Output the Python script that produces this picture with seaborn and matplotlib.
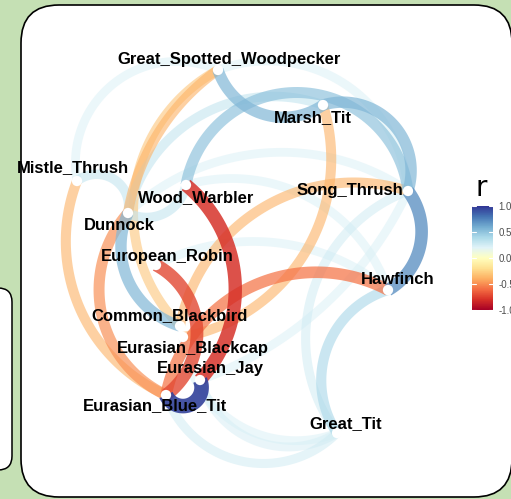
import numpy as np
import pandas as pd
import matplotlib
matplotlib.use("Agg")
import matplotlib.pyplot as plt
import seaborn as sns
from matplotlib.patches import FancyBboxPatch
from matplotlib.cm import ScalarMappable
from matplotlib.colors import Normalize

# node layout
species = ["Great_Spotted_Woodpecker", "Marsh_Tit", "Mistle_Thrush", "Wood_Warbler",
           "Song_Thrush", "Dunnock", "European_Robin", "Hawfinch", "Common_Blackbird",
           "Eurasian_Blackcap", "Eurasian_Jay", "Eurasian_Blue_Tit", "Great_Tit"]
node_x = [218, 323, 77, 186, 408, 128, 156, 388, 180, 183, 200, 166, 337]
node_y = [70, 105, 181, 185, 191, 213, 265, 290, 326, 337, 380, 395, 433]

# correlation edges
edge_from = ["Great_Spotted_Woodpecker", "Marsh_Tit", "Wood_Warbler", "Song_Thrush",
             "Hawfinch", "Eurasian_Blue_Tit", "Eurasian_Jay", "Eurasian_Jay",
             "Wood_Warbler", "European_Robin", "Hawfinch", "Dunnock", "Dunnock",
             "Mistle_Thrush", "Mistle_Thrush", "Great_Spotted_Woodpecker",
             "Great_Spotted_Woodpecker", "Great_Spotted_Woodpecker",
             "Great_Spotted_Woodpecker", "Marsh_Tit", "Song_Thrush", "Wood_Warbler",
             "Dunnock", "European_Robin", "Song_Thrush", "Wood_Warbler",
             "Eurasian_Blackcap", "Eurasian_Jay", "Dunnock"]
edge_to = ["Marsh_Tit", "Song_Thrush", "Song_Thrush", "Hawfinch",
           "Great_Tit", "Great_Tit", "Great_Tit", "Eurasian_Blue_Tit",
           "Eurasian_Jay", "Eurasian_Blue_Tit", "Eurasian_Blue_Tit", "Common_Blackbird",
           "Eurasian_Blue_Tit", "Eurasian_Blue_Tit", "Dunnock", "Mistle_Thrush",
           "Dunnock", "Common_Blackbird", "Song_Thrush", "Eurasian_Blackcap",
           "Common_Blackbird", "Dunnock", "Song_Thrush", "Hawfinch", "Great_Tit",
           "Hawfinch", "Great_Tit", "Song_Thrush", "Marsh_Tit"]
edge_r = [0.55, 0.55, 0.50, 0.70,
          0.40, 0.26, 0.24, 0.95,
          -0.80, -0.72, -0.58, 0.55,
          -0.50, -0.38, 0.32, 0.22,
          -0.38, -0.32, 0.22, -0.38,
          -0.38, 0.32, 0.22, 0.22, 0.26,
          0.22, 0.22, 0.22, 0.32]

# arc strength per edge (sign = side of the bulge)
edge_bend = [0.5, -0.6, -0.86, -0.45,
             0.5, 0.55, 0.5, -1.0,
             -0.43, -0.55, 0.5, 0.45,
             0.5, 0.4, -0.7, 0.6,
             0.2, 0.5, -0.5, -0.45,
             0.45, -0.5, -0.35, -0.3, 0.5,
             -0.4, 0.5, 0.2, -0.45]


def arc_points(p0, p1, s, n=80):
    p0, p1 = np.asarray(p0, float), np.asarray(p1, float)
    chord = p1 - p0
    h = np.linalg.norm(chord) / 2
    u = chord / (2 * h)
    nrm = np.array([-u[1], u[0]])
    if s < 0:
        nrm, s = -nrm, -s
    d = s * h
    a = 2 * np.arctan(d / h)
    R = h / np.sin(a)
    center = (p0 + p1) / 2 + nrm * (d - R)
    phi = np.linspace(-a, a, n)
    return center + R * (np.outer(np.sin(phi), u) + np.outer(np.cos(phi), nrm))


sns.set_theme(style="white")
plt.rcParams["font.family"] = ["Liberation Sans", "DejaVu Sans"]

nodes = pd.DataFrame({"name": species, "x": node_x, "y": node_y})
pos = {n: (x, y) for n, x, y in zip(species, node_x, node_y)}
edges = pd.DataFrame({"from": edge_from, "to": edge_to, "r": edge_r, "bend": edge_bend})
edges = edges.reindex(edges["r"].abs().sort_values().index)

cmap = sns.color_palette("RdYlBu", as_cmap=True)
norm = Normalize(-1, 1)

fig = plt.figure(figsize=(5.11, 4.99), dpi=100, facecolor="#c5e0b4")
ax = fig.add_axes([0, 0, 1, 1])

# background panels
ax.add_patch(FancyBboxPatch((-60, 288), 72, 182, boxstyle="round,pad=0,rounding_size=14",
                            fc="white", ec="black", lw=1.1))
ax.add_patch(FancyBboxPatch((21, 5), 491, 492, boxstyle="round,pad=0,rounding_size=38",
                            fc="white", ec="black", lw=1.2))

for _, e in edges.iterrows():
    pts = arc_points(pos[e["from"]], pos[e["to"]], e["bend"])
    a = abs(e["r"])
    ax.plot(pts[:, 0], pts[:, 1], color=cmap(norm(e["r"])),
            lw=(7 + 8 * a) * 0.72, alpha=0.4 + 0.55 * a, solid_capstyle="butt", zorder=3)

sns.scatterplot(data=nodes, x="x", y="y", color="white", s=55, edgecolor="none",
                legend=False, ax=ax, zorder=5)
ax.set_xlim(0, 511)
ax.set_ylim(499, 0)
ax.axis("off")

label_offset = {
    "Great_Spotted_Woodpecker": (11, -11), "Marsh_Tit": (-10, 13),
    "Mistle_Thrush": (-4, -13), "Wood_Warbler": (10, 13), "Song_Thrush": (-58, 0),
    "Dunnock": (-9, 12), "European_Robin": (11, -9), "Hawfinch": (10, -10),
    "Common_Blackbird": (-10, -10), "Eurasian_Blackcap": (10, 12),
    "Eurasian_Jay": (10, -11), "Eurasian_Blue_Tit": (-11, 11), "Great_Tit": (9, -9),
}
for n, x, y in zip(species, node_x, node_y):
    dx, dy = label_offset[n]
    ax.text(x + dx, y + dy, n, ha="center", va="center", fontsize=12,
            fontweight="bold", color="black", zorder=6)

# colour bar
cax = fig.add_axes([472 / 511, 1 - 310 / 499, 21 / 511, 104 / 499])
cb = fig.colorbar(ScalarMappable(norm=norm, cmap=cmap), cax=cax)
cb.outline.set_visible(False)
ticks = [-1, -0.5, 0, 0.5, 1]
cb.set_ticks(ticks)
cb.set_ticklabels(["-1.0", "-0.5", "0.0", "0.5", "1.0"])
cax.tick_params(length=0, labelsize=7, colors="#4d4d4d", pad=4)
for t in ticks:
    cax.axhline(t, xmin=0, xmax=0.2, color="white", lw=0.8)
    cax.axhline(t, xmin=0.8, xmax=1, color="white", lw=0.8)
fig.text(481 / 511, 1 - 188 / 499, "r", fontsize=20, ha="center", va="center",
         color="black", family="DejaVu Sans")

fig.savefig("out.png", dpi=100, facecolor=fig.get_facecolor())
